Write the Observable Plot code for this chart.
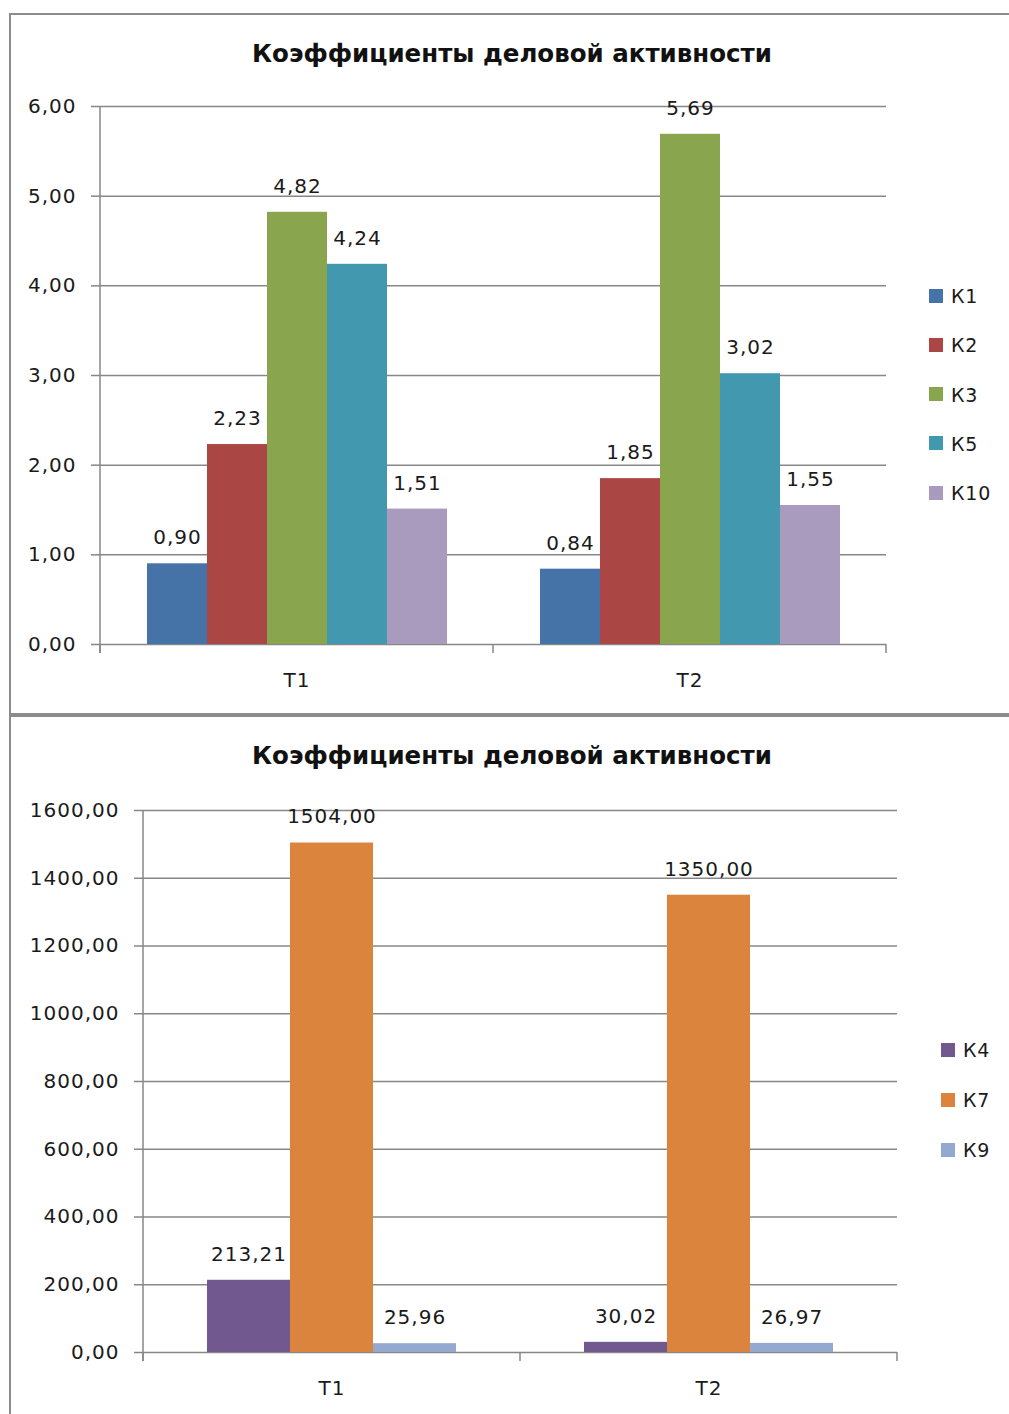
<!DOCTYPE html>
<html><head><meta charset="utf-8">
<script src="https://cdn.jsdelivr.net/npm/d3@7"></script>
<script src="https://cdn.jsdelivr.net/npm/@observablehq/plot@0.6"></script>
<style>
html,body{margin:0;padding:0;background:#fff;width:1009px;height:1414px;overflow:hidden;position:relative;font-family:"DejaVu Sans",sans-serif;color:#1a1a1a;}
.box{position:absolute;border:2px solid #8c8c8c;box-sizing:border-box;background:#fff;}
.title{position:absolute;left:0;width:1024px;text-align:center;font-weight:bold;font-size:24.5px;color:#111;font-family:"DejaVu Sans",sans-serif;}
.chart{position:absolute;left:0;}
.leg{position:absolute;font-size:19px;color:#1a1a1a;letter-spacing:0.8px;}
.leg .it{position:absolute;left:0;white-space:nowrap;height:24px;line-height:24px;}
.leg .sw{display:inline-block;width:14px;height:14px;vertical-align:middle;margin-right:8px;position:relative;top:-2px;}
</style></head>
<body>
<script>
const periods = ["Т1", "Т2"];
const chartTitle = "Коэффициенты деловой активности";

const seriesA = ["К1", "К2", "К3", "К5", "К10"];
const valuesA_T1 = [0.90, 2.23, 4.82, 4.24, 1.51];
const valuesA_T2 = [0.84, 1.85, 5.69, 3.02, 1.55];
const colorsA = ["#4572a7", "#aa4643", "#89a54e", "#4198af", "#a99bbd"];
const ticksA = [0, 1, 2, 3, 4, 5, 6];

const seriesB = ["К4", "К7", "К9"];
const valuesB_T1 = [213.21, 1504.00, 25.96];
const valuesB_T2 = [30.02, 1350.00, 26.97];
const colorsB = ["#71588f", "#db843d", "#93a9cf"];
const ticksB = [0, 200, 400, 600, 800, 1000, 1200, 1400, 1600];

const fmt = v => v.toFixed(2).replace(".", ",");

function rows(series, v1, v2) {
  const out = [];
  series.forEach((s, i) => {
    out.push({period: periods[0], series: s, value: v1[i]});
    out.push({period: periods[1], series: s, value: v2[i]});
  });
  return out;
}

function addBox(top, height) {
  const b = document.createElement("div");
  b.className = "box";
  b.style.left = "9px"; b.style.top = top + "px";
  b.style.width = "1030px"; b.style.height = height + "px";
  document.body.appendChild(b);
}

function addTitle(top) {
  const t = document.createElement("div");
  t.className = "title";
  t.style.top = top + "px";
  t.textContent = chartTitle;
  document.body.appendChild(t);
}

function addLegend(series, colors, left, firstY, step) {
  const l = document.createElement("div");
  l.className = "leg";
  l.style.left = left + "px"; l.style.top = "0px";
  series.forEach((s, i) => {
    const it = document.createElement("div");
    it.className = "it";
    it.style.top = (firstY + i * step - 12) + "px";
    const sw = document.createElement("span");
    sw.className = "sw"; sw.style.background = colors[i];
    it.appendChild(sw);
    it.appendChild(document.createTextNode(s));
    l.appendChild(it);
  });
  document.body.appendChild(l);
}

function makeChart(o) {
  const data = rows(o.series, o.v1, o.v2);
  const p = Plot.plot({
    width: 1009,
    height: o.height,
    marginLeft: o.ml, marginRight: o.mr, marginTop: o.mt, marginBottom: o.mb,
    style: {fontFamily: "'DejaVu Sans', sans-serif", fontSize: "20px", color: "#1a1a1a", background: "transparent", overflow: "visible", letterSpacing: "1px"},
    fx: {domain: periods, padding: 0, axis: "bottom", label: null, tickSize: 0, tickPadding: 28},
    x: {domain: o.series, paddingInner: 0, paddingOuter: o.po, axis: null},
    y: {domain: [o.ticks[0], o.ticks[o.ticks.length - 1]], axis: null},
    color: {domain: o.series, range: o.colors},
    marks: [
      Plot.gridY(o.ticks, {stroke: "#878787", strokeOpacity: 1, strokeWidth: 1.5}),
      Plot.barY(data, {fx: "period", x: "series", y: "value", fill: "series"}),
      Plot.text(data, {fx: "period", x: "series", y: "value", text: d => fmt(d.value), dy: -26, fill: "#1a1a1a", fontSize: 20}),
      Plot.axisY(o.ticks, {tickFormat: fmt, tickSize: 9, tickPadding: 15, stroke: "#878787", strokeWidth: 1.5, label: null, fontSize: 20, fill: "#1a1a1a"})
    ]
  });
  const y = p.scale("y"), fx = p.scale("fx");
  const sel = d3.select(p);
  const g = sel.append("g").attr("stroke", "#878787").attr("stroke-width", 1.5);
  const y0 = y.apply(o.ticks[0]), yTop = y.apply(o.ticks[o.ticks.length - 1]);
  const bounds = periods.map(d => fx.apply(d)).concat([fx.range[1]]);
  g.append("line").attr("x1", bounds[0]).attr("x2", bounds[0]).attr("y1", yTop).attr("y2", y0 + 9);
  bounds.forEach(b => g.append("line").attr("x1", b).attr("x2", b).attr("y1", y0).attr("y2", y0 + 9));
  const wrap = document.createElement("div");
  wrap.className = "chart";
  wrap.style.top = o.top + "px";
  wrap.appendChild(p);
  document.body.appendChild(wrap);
}

addBox(13, 702);
addBox(715, 720);
addTitle(39);
addTitle(741);

makeChart({series: seriesA, v1: valuesA_T1, v2: valuesA_T2, colors: colorsA, ticks: ticksA,
  top: 0, height: 713, ml: 99, mr: 123, mt: 106, mb: 69, po: 0.768});
makeChart({series: seriesB, v1: valuesB_T1, v2: valuesB_T2, colors: colorsB, ticks: ticksB,
  top: 715, height: 699, ml: 142, mr: 112, mt: 95, mb: 62, po: 0.758});

addLegend(seriesA, colorsA, 929, 296, 49.3);
addLegend(seriesB, colorsB, 941, 1050, 50);
</script>
</body></html>
